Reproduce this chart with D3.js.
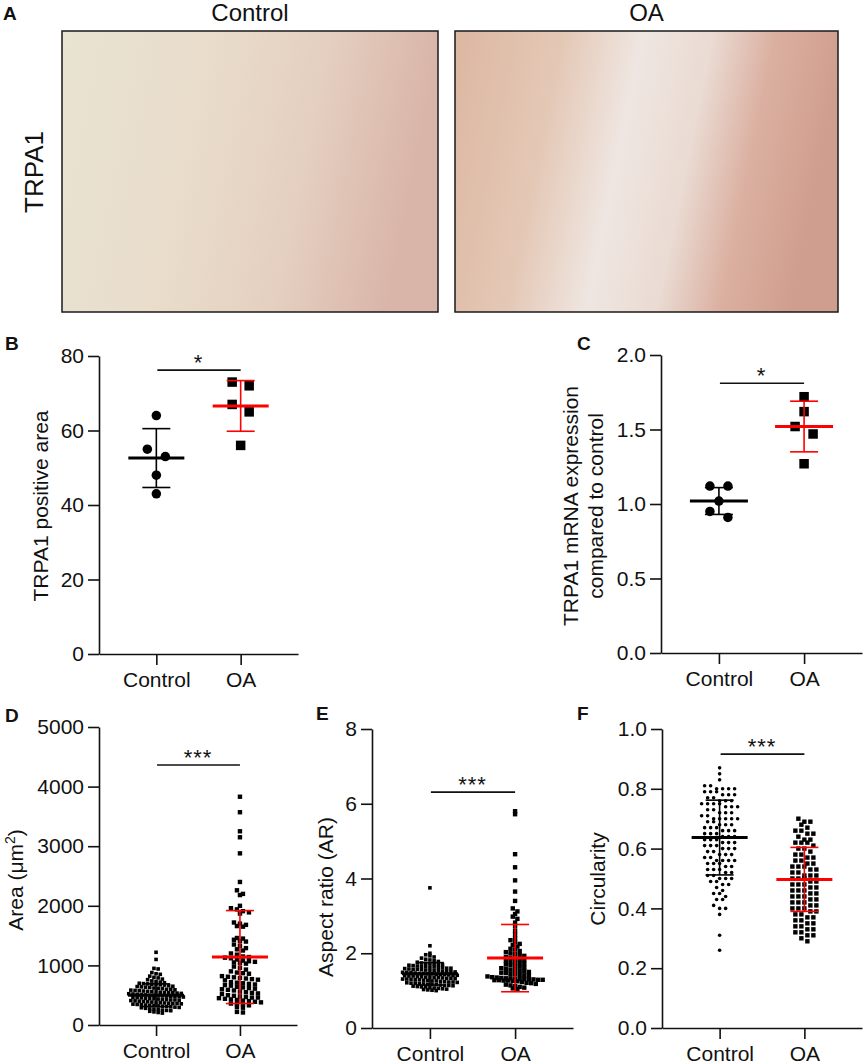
<!DOCTYPE html>
<html>
<head>
<meta charset="utf-8">
<script src="https://cdn.jsdelivr.net/npm/d3@7"></script>
<style>
  body { margin: 0; background: #fff; }
  svg { display: block; font-family: "Liberation Sans", Arial, Helvetica, sans-serif; }
</style>
</head>
<body>
<svg id="fig" width="865" height="1064"></svg>
<script>
const groups = ['Control', 'OA'];

// B: TRPA1 positive area
const bControl = [64, 55, 53, 48, 43];
const bOA = [73, 72, 67, 65, 56];
const bMean = [52.6, 66.6];
const bSd = [7.9, 6.8];
const bTicks = [0, 20, 40, 60, 80];

// C: TRPA1 mRNA expression
const cControl = [1.12, 1.12, 1.02, 0.95, 0.91];
const cOA = [1.72, 1.62, 1.52, 1.47, 1.27];
const cMean = [1.02, 1.52];
const cSd = [0.09, 0.17];
const cTicks = [0, 0.5, 1.0, 1.5, 2.0];

// D: cell area (um^2)
const dControl = [1220, 1100, 950, 940, 880, 860, 850, 820, 800, 790, 770, 760, 740, 730, 720, 710,
  700, 695, 690, 685, 680, 675, 670, 660, 650, 645, 640, 635, 630, 620, 615, 610, 600, 600,
  590, 585, 580, 575, 570, 565, 560, 555, 550, 545, 540, 540, 535, 530, 525, 520, 515, 510, 505,
  500, 500, 495, 490, 485, 480, 480, 475, 470, 465, 460, 455, 450, 445, 440, 435, 430, 425, 420,
  420, 415, 410, 405, 400, 395, 390, 385, 380, 375, 370, 365, 360, 360, 355, 350, 345, 340, 335,
  330, 325, 320, 315, 310, 305, 300, 295, 290, 280, 270, 265, 260, 250, 245, 240, 230, 220, 210, 200];
const dOA = [3830, 3570, 3250, 3150, 2880, 2400, 2260, 2200, 2180, 2000, 1960, 1940, 1910, 1890,
  1870, 1720, 1700, 1680, 1660, 1650, 1460, 1450, 1430, 1410, 1400, 1350, 1330, 1290, 1270, 1250,
  1200, 1180, 1150, 1140, 1130, 1120, 1100, 1080, 1070, 1060, 1050, 1040, 1030, 980, 960, 930, 900,
  880, 870, 860, 820, 810, 800, 790, 780, 770, 760, 750, 720, 710, 700, 690, 680, 670, 660, 640,
  630, 620, 610, 600, 590, 580, 560, 550, 540, 530, 520, 500, 490, 480, 470, 460, 460, 450, 440,
  430, 420, 410, 400, 390, 380, 360, 350, 340, 330, 300, 290, 220, 210];
const dMean = [500, 1140];
const dSd = [190, 780];
const dTicks = [0, 1000, 2000, 3000, 4000, 5000];

// E: aspect ratio
const eControl = [1.00, 1.01, 1.02, 1.03, 1.04, 1.05, 1.06, 1.07, 1.08, 1.10, 1.10, 1.11, 1.12, 1.13,
  1.14, 1.14, 1.15, 1.16, 1.17, 1.17, 1.18, 1.19, 1.20, 1.20, 1.21, 1.22, 1.23, 1.23, 1.24, 1.25,
  1.26, 1.26, 1.27, 1.28, 1.29, 1.29, 1.30, 1.31, 1.31, 1.32, 1.33, 1.33, 1.34, 1.35, 1.35, 1.36,
  1.36, 1.37, 1.38, 1.39, 1.39, 1.40, 1.41, 1.41, 1.42, 1.43, 1.43, 1.44, 1.45, 1.45, 1.46, 1.46,
  1.47, 1.48, 1.49, 1.49, 1.50, 1.51, 1.51, 1.52, 1.53, 1.53, 1.54, 1.55, 1.56, 1.57, 1.57, 1.58,
  1.59, 1.60, 1.60, 1.61, 1.62, 1.63, 1.63, 1.64, 1.65, 1.66, 1.67, 1.68, 1.69, 1.70, 1.71, 1.72,
  1.73, 1.74, 1.76, 1.78, 1.80, 1.82, 1.84, 1.87, 1.90, 1.93, 1.96, 2.00, 2.20, 3.75];
const eOA = [5.80, 5.72, 4.65, 4.30, 3.95, 3.65, 3.40, 3.20, 3.12, 3.05, 2.98, 2.92, 2.82, 2.72,
  2.60, 2.50, 2.40, 2.35, 2.30, 2.25, 2.22, 2.18, 2.12, 2.10, 2.06, 2.03, 2.00, 1.98, 1.95, 1.93,
  1.90, 1.88, 1.86, 1.84, 1.82, 1.80, 1.78, 1.76, 1.74, 1.72, 1.70, 1.68, 1.66, 1.64, 1.62, 1.60,
  1.58, 1.56, 1.55, 1.53, 1.52, 1.50, 1.48, 1.47, 1.45, 1.44, 1.42, 1.41, 1.40, 1.38, 1.36, 1.35,
  1.34, 1.33, 1.33, 1.32, 1.31, 1.31, 1.30, 1.30, 1.29, 1.29, 1.28, 1.28, 1.27, 1.27, 1.26, 1.25,
  1.23, 1.21, 1.20, 1.18, 1.16, 1.14, 1.12, 1.10, 1.08, 1.06, 1.04];
const eMean = [1.45, 1.87];
const eSd = [0.3, 0.9];
const eTicks = [0, 2, 4, 6, 8];

// F: circularity
const fControl = [0.87, 0.85, 0.83, 0.81, 0.81, 0.80, 0.80, 0.80, 0.80, 0.79, 0.79, 0.79, 0.78, 0.78,
  0.77, 0.77, 0.76, 0.76, 0.76, 0.75, 0.75, 0.75, 0.74, 0.74, 0.74, 0.73, 0.73, 0.72, 0.72, 0.71,
  0.71, 0.70, 0.70, 0.70, 0.70, 0.69, 0.69, 0.68, 0.68, 0.67, 0.67, 0.67, 0.66, 0.66, 0.65, 0.65,
  0.65, 0.64, 0.64, 0.64, 0.63, 0.63, 0.62, 0.62, 0.62, 0.61, 0.61, 0.60, 0.60, 0.60, 0.59, 0.59,
  0.58, 0.58, 0.57, 0.57, 0.56, 0.56, 0.56, 0.56, 0.55, 0.55, 0.54, 0.54, 0.53, 0.53, 0.52, 0.52,
  0.51, 0.51, 0.50, 0.50, 0.49, 0.49, 0.48, 0.48, 0.47, 0.46, 0.45, 0.45, 0.44, 0.43, 0.43, 0.41,
  0.40, 0.40, 0.38, 0.31, 0.26, 0.78, 0.75, 0.72, 0.70, 0.68, 0.66, 0.63, 0.61, 0.58, 0.55, 0.53,
  0.50];
const fOA = [0.70, 0.69, 0.69, 0.68, 0.67, 0.66, 0.66, 0.65, 0.65, 0.64, 0.63, 0.63, 0.62, 0.62,
  0.61, 0.60, 0.60, 0.59, 0.58, 0.58, 0.57, 0.56, 0.56, 0.55, 0.55, 0.54, 0.54, 0.53, 0.53, 0.52,
  0.52, 0.51, 0.51, 0.50, 0.50, 0.50, 0.49, 0.49, 0.48, 0.48, 0.47, 0.47, 0.46, 0.46, 0.45, 0.45,
  0.44, 0.44, 0.43, 0.43, 0.42, 0.42, 0.41, 0.41, 0.40, 0.40, 0.39, 0.39, 0.38, 0.38, 0.37, 0.37,
  0.36, 0.36, 0.35, 0.35, 0.34, 0.34, 0.33, 0.33, 0.32, 0.32, 0.31, 0.31, 0.30, 0.29, 0.62, 0.57,
  0.54, 0.51, 0.48, 0.46, 0.44, 0.42, 0.40];
const fMean = [0.637, 0.497];
const fSd = [0.125, 0.107];
const fTicks = [0, 0.2, 0.4, 0.6, 0.8, 1.0];

const RED = '#ff0000';
const INK = '#111';
const FS = '21px';
const svg = d3.select('#fig');

// ---------- Panel A: micrograph placeholders ----------
const defs = svg.append('defs');
function tissueGradient(id, stops) {
    const g = defs.append('linearGradient').attr('id', id)
        .attr('x1', '0%').attr('y1', '0%').attr('x2', '100%').attr('y2', '15%');
    stops.forEach(s => g.append('stop').attr('offset', s[0]).attr('stop-color', s[1]));
}
tissueGradient('tissueCtrl', [['0%', '#e8e3d2'], ['40%', '#e9dccb'], ['70%', '#e4cfc0'], ['100%', '#d9b4a8']]);
tissueGradient('tissueOA', [['0%', '#dcb7a1'], ['28%', '#e4c8b6'], ['48%', '#efe6e1'], ['66%', '#eadbd3'], ['82%', '#dbb0a1'], ['100%', '#d09e8e']]);

const imgBoxes = [
    { label: 'Control', x: 62, w: 376, fill: 'url(#tissueCtrl)' },
    { label: 'OA', x: 455, w: 383, fill: 'url(#tissueOA)' }
];
imgBoxes.forEach(b => {
    svg.append('rect')
        .attr('x', b.x).attr('y', 31).attr('width', b.w).attr('height', 281)
        .attr('fill', b.fill).attr('stroke', '#1a1a1a').attr('stroke-width', 1.5);
    svg.append('text')
        .attr('x', b.x + b.w / 2).attr('y', 21)
        .attr('text-anchor', 'middle').attr('font-size', '24px').attr('fill', INK)
        .text(b.label);
});
svg.append('text')
    .attr('transform', 'translate(43,172) rotate(-90)')
    .attr('text-anchor', 'middle').attr('font-size', '26px').attr('fill', INK)
    .text('TRPA1');

// panel letters
[['A', 3, 20], ['B', 5, 350], ['C', 577, 350], ['D', 5, 722], ['E', 316, 720], ['F', 577, 720]]
    .forEach(([t, x, y]) => svg.append('text')
        .attr('x', x).attr('y', y).attr('font-size', '19px').attr('font-weight', 'bold')
        .attr('fill', INK).text(t));

// ---------- scatter layout ----------
// 'greedy': a new row starts once a point is `bin` px below the row's first point.
// 'grid':   rows are fixed `bin`-px bands measured up from the x axis.
// Points sharing a row are spread symmetrically around the category centre.
function swarm(values, y, cx, m) {
    const sorted = values.map(v => ({ v, py: y(v) })).sort((a, b) => a.py - b.py);
    const base = y(0);
    const rows = new Map();
    let cur = null, key = 0;
    sorted.forEach(p => {
        if (m.mode === 'grid') {
            key = Math.floor((base - p.py) / m.bin);
        } else if (!cur || p.py - cur >= m.bin) {
            cur = p.py;
            key += 1;
        }
        if (!rows.has(key)) rows.set(key, []);
        rows.get(key).push(p);
    });
    const out = [];
    rows.forEach(pts => {
        const n = pts.length;
        pts.forEach((p, i) => out.push({ v: p.v, x: cx + (i - (n - 1) / 2) * m.step, y: p.py }));
    });
    return out;
}

function scatterPanel(o) {
    const g = svg.append('g');
    const x = d3.scalePoint().domain(groups).range([o.left, o.right]).padding(0.68);
    const y = d3.scaleLinear().domain([0, o.max]).range([o.bottom, o.top]);

    // axes
    const ya = g.append('g').attr('transform', `translate(${o.left},0)`)
        .call(d3.axisLeft(y).tickValues(o.ticks).tickFormat(o.fmt).tickSize(11).tickSizeOuter(0).tickPadding(4));
    const xa = g.append('g').attr('transform', `translate(0,${o.bottom})`)
        .call(d3.axisBottom(x).tickSize(11).tickSizeOuter(0).tickPadding(7));
    [ya, xa].forEach(a => {
        a.selectAll('path, line').attr('stroke', INK).attr('stroke-width', 1.6);
        a.selectAll('text').attr('font-size', FS).attr('fill', INK).attr('font-family', null);
    });

    // axis title
    const title = g.append('text')
        .attr('transform', `translate(${o.titleX},${o.titleY}) rotate(-90)`)
        .attr('text-anchor', 'middle').attr('font-size', FS).attr('fill', INK);
    o.title.forEach((line, i) => {
        title.append('tspan').attr('x', 0).attr('dy', i === 0 ? 0 : '1.2em').html(line);
    });

    // points
    [o.control, o.oa].forEach((vals, gi) => {
        const m = o.markers[gi];
        const pts = swarm(vals, y, x(groups[gi]), m);
        if (m.shape === 'circle') {
            g.selectAll(null).data(pts).enter().append('circle')
                .attr('cx', d => d.x).attr('cy', d => d.y).attr('r', m.size / 2).attr('fill', '#000');
        } else {
            g.selectAll(null).data(pts).enter().append('rect')
                .attr('x', d => d.x - m.size / 2).attr('y', d => d.y - m.size / 2)
                .attr('width', m.size).attr('height', m.size).attr('fill', '#000');
        }
    });

    // mean +/- SD
    groups.forEach((grp, gi) => {
        const cx = x(grp);
        const col = gi === 0 ? '#000' : RED;
        const hi = o.mean[gi] + o.sd[gi], lo = o.mean[gi] - o.sd[gi];
        g.append('line').attr('x1', cx).attr('x2', cx).attr('y1', y(hi)).attr('y2', y(lo))
            .attr('stroke', col).attr('stroke-width', 1.6);
        [hi, lo].forEach(v => g.append('line')
            .attr('x1', cx - o.capW).attr('x2', cx + o.capW).attr('y1', y(v)).attr('y2', y(v))
            .attr('stroke', col).attr('stroke-width', 1.6));
        g.append('line')
            .attr('x1', cx - o.meanW).attr('x2', cx + o.meanW).attr('y1', y(o.mean[gi])).attr('y2', y(o.mean[gi]))
            .attr('stroke', col).attr('stroke-width', 3);
    });

    // significance bar
    const sy = y(o.sig.y);
    g.append('line').attr('x1', x('Control') + 1).attr('x2', x('OA')).attr('y1', sy).attr('y2', sy)
        .attr('stroke', INK).attr('stroke-width', 1.6);
    g.append('text')
        .attr('x', (x('Control') + x('OA')) / 2).attr('y', sy)
        .attr('text-anchor', 'middle').attr('font-size', '22px').attr('letter-spacing', '1px')
        .attr('fill', INK).text(o.sig.label);
}

const fmt0 = d3.format('d');
const fmt1 = d3.format('.1f');

scatterPanel({
    left: 99, right: 298, top: 356, bottom: 654, max: 80, ticks: bTicks, fmt: fmt0,
    control: bControl, oa: bOA, mean: bMean, sd: bSd,
    markers: [{ shape: 'circle', size: 9.5, bin: 9, step: 18 }, { shape: 'rect', size: 9.5, bin: 9, step: 17 }],
    meanW: 28, capW: 14,
    title: ['TRPA1 positive area'], titleX: 48, titleY: 506,
    sig: { y: 76.2, label: '*' }
});

scatterPanel({
    left: 661, right: 862, top: 355, bottom: 653, max: 2, ticks: cTicks, fmt: fmt1,
    control: cControl, oa: cOA, mean: cMean, sd: cSd,
    markers: [{ shape: 'circle', size: 9.5, bin: 9, step: 18 }, { shape: 'rect', size: 9.5, bin: 9, step: 18 }],
    meanW: 29, capW: 14,
    title: ['TRPA1 mRNA expression', 'compared to control'], titleX: 578, titleY: 506,
    sig: { y: 1.81, label: '*' }
});

scatterPanel({
    left: 99, right: 297, top: 727, bottom: 1025, max: 5000, ticks: dTicks, fmt: fmt0,
    control: dControl, oa: dOA, mean: dMean, sd: dSd,
    markers: [{ shape: 'rect', size: 3.6, mode: 'grid', bin: 3.5, step: 4.2 }, { shape: 'rect', size: 4.4, mode: 'grid', bin: 4.5, step: 6 }],
    meanW: 28, capW: 14,
    title: ['Area (μm<tspan dy="-8" font-size="14px">2</tspan><tspan dy="8">)</tspan>'], titleX: 23, titleY: 880,
    sig: { y: 4362, label: '***' }
});

scatterPanel({
    left: 372, right: 573, top: 729, bottom: 1028, max: 8, ticks: eTicks, fmt: fmt0,
    control: eControl, oa: eOA, mean: eMean, sd: eSd,
    markers: [{ shape: 'rect', size: 3.6, mode: 'grid', bin: 3.5, step: 4.2 }, { shape: 'rect', size: 4.4, mode: 'grid', bin: 4, step: 4.6 }],
    meanW: 28, capW: 14,
    title: ['Aspect ratio (AR)'], titleX: 333, titleY: 897,
    sig: { y: 6.31, label: '***' }
});

scatterPanel({
    left: 662, right: 862, top: 729, bottom: 1028, max: 1, ticks: fTicks, fmt: fmt1,
    control: fControl, oa: fOA, mean: fMean, sd: fSd,
    markers: [{ shape: 'circle', size: 3.6, bin: 5, step: 6 }, { shape: 'rect', size: 4.4, bin: 5, step: 6 }],
    meanW: 28, capW: 14,
    title: ['Circularity'], titleX: 605, titleY: 879,
    sig: { y: 0.916, label: '***' }
});
</script>
</body>
</html>
